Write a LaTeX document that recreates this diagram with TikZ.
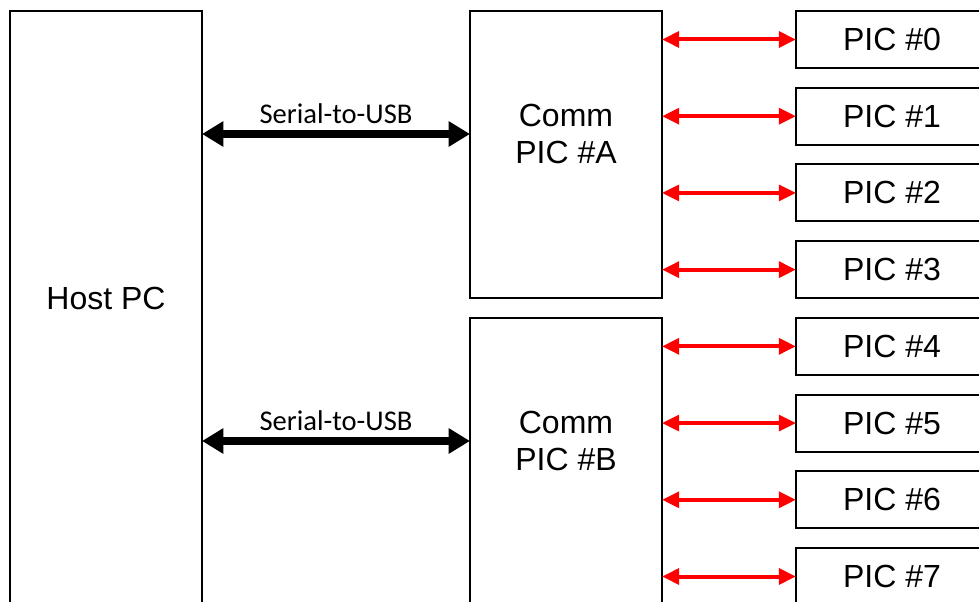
\documentclass[tikz,border=0pt]{standalone}
\usepackage{fontspec}
\setmainfont{Liberation Sans}
\newfontfamily\calibri{Carlito}
\usetikzlibrary{arrows.meta,positioning,chains}

\begin{document}
\begin{tikzpicture}[x=0.7pt,y=-0.7pt,
  every node/.style={outer sep=0pt,font=\fontsize{22.4}{26.5}\selectfont},
  box/.style={draw,line width=1.4pt,minimum width=134.4pt,inner sep=0pt},
  hostnode/.style={box,minimum height=426.3pt},
  commnode/.style={box,minimum height=200.9pt},
  picnode/.style={box,minimum height=39.9pt},
  txt/.style={align=center,inner sep=0pt},
  usb/.style={line width=5pt,{Triangle[length=15pt,width=17pt]}-{Triangle[length=15pt,width=17pt]}},
  link/.style={red,line width=2.8pt,{Triangle[length=12pt,width=11pt]}-{Triangle[length=12pt,width=11pt]}}
  ]
  \useasboundingbox (0,0) rectangle (979,602);
  \clip (0,0) rectangle (979,602);

  % the host
  \node[hostnode] (host) at (106,315.5) {};
  \node[txt] (hosttext) at (106,298) {Host PC};

  % the comm PICs
  \node[commnode] (commA) at (566,154.5) {};
  \node[txt] (atext) at (566,134) {Comm\\PIC \#A};
  \node[commnode] (commB) at (566,461.5) {};
  \node[txt] (btext) at (566,441) {Comm\\PIC \#B};

  % the PICs
  \begin{scope}[shift={(892,39.5)},start chain=going below,node distance=13.8pt]
  \foreach \i in {0,1,...,7}
  \node[picnode,on chain] (pic\i) {PIC \#\i};
  \end{scope}

  % serial links
  \draw[usb] (host.east |- atext) -- (atext -| commA.west)
    node[midway,anchor=base,yshift=7pt,font=\calibri\fontsize{20}{24}\selectfont] {Serial-to-USB};
  \draw[usb] (host.east |- btext) -- (btext -| commB.west)
    node[midway,anchor=base,yshift=7pt,font=\calibri\fontsize{20}{24}\selectfont] {Serial-to-USB};

  % the buses
  \foreach \i in {0,1,2,3}
  \draw[link] (commA.east |- pic\i.west) -- (pic\i.west);
  \foreach \i in {4,5,6,7}
  \draw[link] (commB.east |- pic\i.west) -- (pic\i.west);
\end{tikzpicture}
\end{document}
